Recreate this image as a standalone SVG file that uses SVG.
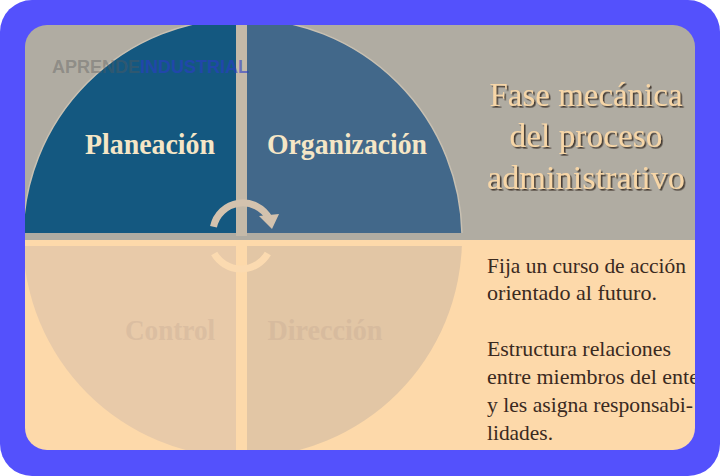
<svg xmlns="http://www.w3.org/2000/svg" xmlns:xlink="http://www.w3.org/1999/xlink" width="720" height="476" viewBox="0 0 720 476">
<style>
.q{font-family:"Liberation Serif","DejaVu Serif",serif;font-weight:bold;font-size:30px;text-anchor:middle}
.t{font-family:"Liberation Serif","DejaVu Serif",serif;font-size:33px;fill:#f7d6a7;text-anchor:middle}
.b{font-family:"Liberation Serif","DejaVu Serif",serif;font-size:22px;fill:#3a2a1f}
.wm{font-family:"Liberation Sans",Arial,sans-serif;font-weight:bold;font-size:18px}
.arc{fill:none;stroke-width:7}
</style>
<defs>
<clipPath id="panel"><rect x="25" y="25" width="670" height="425" rx="22"/></clipPath>
<clipPath id="cTL"><rect x="0" y="0" width="236" height="233"/></clipPath>
<clipPath id="cTR"><rect x="247" y="0" width="473" height="233"/></clipPath>
<clipPath id="cBL"><rect x="0" y="246" width="236" height="230"/></clipPath>
<clipPath id="cBR"><rect x="247" y="246" width="473" height="230"/></clipPath>
<circle id="blob" cx="242.5" cy="238" r="219.5"/>
<filter id="sh" x="-10%" y="-20%" width="120%" height="150%"><feDropShadow dx="1.6" dy="1.6" stdDeviation="0.6" flood-color="#3a3026" flood-opacity="0.9"/></filter>
</defs>
<rect x="0" y="0" width="720" height="476" fill="#ffffff"/>
<rect x="0" y="0" width="720" height="476" rx="32" fill="#5451fc"/>
<g clip-path="url(#panel)">
<rect x="25" y="25" width="670" height="215" fill="#b0aca2"/>
<rect x="25" y="240" width="670" height="210" fill="#fdd9aa"/>
<rect x="236" y="25" width="11" height="211" fill="#c4b9a8"/>
<g id="planeacion">
<use xlink:href="#blob" clip-path="url(#cTL)" fill="#145880" stroke="#c8c0b2" stroke-width="1.5"/>
<text class="q" x="150" y="154" fill="#f5e6c6" textLength="130" lengthAdjust="spacingAndGlyphs">Planeación</text>
</g>
<g id="organizacion">
<use xlink:href="#blob" clip-path="url(#cTR)" fill="#42688a" stroke="#c8c0b2" stroke-width="1.5"/>
<text class="q" x="347" y="154" fill="#f5e6c6" textLength="160" lengthAdjust="spacingAndGlyphs">Organización</text>
</g>
<g id="control">
<use xlink:href="#blob" clip-path="url(#cBL)" fill="#e8caa9"/>
<text class="q" x="170" y="340" fill="#dbbea1" textLength="90" lengthAdjust="spacingAndGlyphs">Control</text>
</g>
<g id="direccion">
<use xlink:href="#blob" clip-path="url(#cBR)" fill="#e2c6a5"/>
<text class="q" x="325" y="340" fill="#d7bb9e" textLength="115" lengthAdjust="spacingAndGlyphs">Dirección</text>
</g>
<g id="connectors">
<path class="arc" stroke="#d3c2ae" d="M213.5,226.8 A30,30 0 0 1 269.2,218.5"/>
<polygon fill="#d3c2ae" points="259,216 279,214 272,229"/>
<path class="arc" stroke="#fbdab0" d="M214.2,253.5 A31,31 0 0 0 267.8,253.5"/>
</g>
<g id="titulo" filter="url(#sh)">
<text class="t" x="586" y="106" textLength="193" lengthAdjust="spacingAndGlyphs">Fase mecánica</text>
<text class="t" x="586" y="147" textLength="153" lengthAdjust="spacingAndGlyphs">del proceso</text>
<text class="t" x="586" y="189" textLength="198" lengthAdjust="spacingAndGlyphs">administrativo</text>
</g>
<g id="descripcion">
<text class="b" x="487" y="273" textLength="199" lengthAdjust="spacingAndGlyphs">Fija un curso de acción</text>
<text class="b" x="487" y="300" textLength="170" lengthAdjust="spacingAndGlyphs">orientado al futuro.</text>
<text class="b" x="487" y="356" textLength="184" lengthAdjust="spacingAndGlyphs">Estructura relaciones</text>
<text class="b" x="487" y="384" textLength="212" lengthAdjust="spacingAndGlyphs">entre miembros del ente</text>
<text class="b" x="487" y="412" textLength="206" lengthAdjust="spacingAndGlyphs">y les asigna responsabi-</text>
<text class="b" x="487" y="440" textLength="66" lengthAdjust="spacingAndGlyphs">lidades.</text>
</g>
<g id="marca">
<text class="wm" x="52" y="73"><tspan fill="#5a5a5a" fill-opacity="0.4">APRENDE</tspan><tspan fill="#2a3cc8" fill-opacity="0.6">INDUSTRIAL</tspan></text>
</g>
</g>
</svg>
